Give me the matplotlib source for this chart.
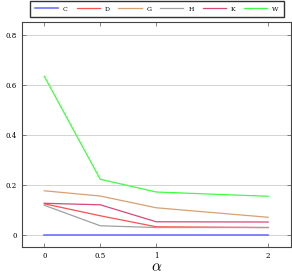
import matplotlib
matplotlib.use("Agg")
import matplotlib.pyplot as plt

alpha = [0, 0.5, 1, 2]
series = {
    "C": [0.0, 0.0, 0.0, 0.0],
    "D": [0.123, 0.075, 0.031, 0.028],
    "G": [0.175, 0.154, 0.107, 0.069],
    "H": [0.117, 0.035, 0.028, 0.028],
    "K": [0.125, 0.119, 0.051, 0.050],
    "W": [0.633, 0.221, 0.170, 0.153],
}
colors = {
    "C": "#6f6fff",
    "D": "#ff5050",
    "G": "#d9a070",
    "H": "#a0a0a0",
    "K": "#d84878",
    "W": "#40ff40",
}

plt.rcParams["font.family"] = "DejaVu Serif"
plt.rcParams["mathtext.fontset"] = "cm"

fig = plt.figure(figsize=(2.92, 2.76), dpi=100)
ax = fig.add_axes([0.075, 0.105, 0.92, 0.815])

for name, vals in series.items():
    ax.plot(alpha, vals, color=colors[name], linewidth=0.9 if name != "C" else 1.2, label=name)

ax.set_xlim(-0.2, 2.2)
ax.set_ylim(-0.05, 0.85)
ax.set_xticks(alpha)
ax.set_xticklabels(["0", "0.5", "1", "2"])
ax.set_yticks([0, 0.2, 0.4, 0.6, 0.8])
ax.set_yticklabels(["0", "0.2", "0.4", "0.6", "0.8"])
ax.tick_params(direction="in", labelsize=5, length=3, width=0.5, colors="#555555",
               top=True, right=True, labelcolor="black")
ax.grid(True, axis="y", color="#cccccc", linewidth=0.6)
for s in ax.spines.values():
    s.set_color("#444444")
    s.set_linewidth(0.8)
ax.set_xlabel(r"$\alpha$", fontsize=11, labelpad=0)

fig.legend(loc="upper center", bbox_to_anchor=(0.537, 1.0), ncol=6, fontsize=4.5,
           frameon=True, fancybox=False, edgecolor="black", handlelength=3.7,
           handletextpad=0.8, columnspacing=1.4, borderpad=0.8, borderaxespad=0.2)

plt.savefig("out.png", dpi=100)
plt.close()
